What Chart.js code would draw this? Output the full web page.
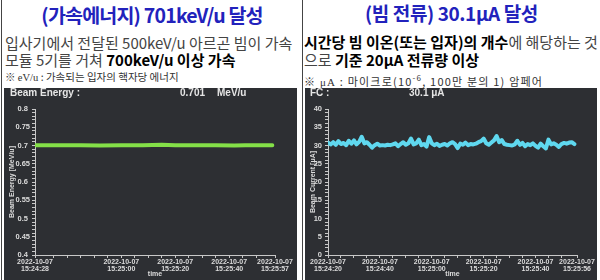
<!DOCTYPE html>
<html>
<head>
<meta charset="utf-8">
<script src="https://cdn.jsdelivr.net/npm/chart.js@4.4.1/dist/chart.umd.min.js"></script>
<style>
  body { margin:0; width:600px; height:280px; overflow:hidden; background:#fff; position:relative; font-family:"Noto Sans CJK KR", sans-serif; }
  .col { position:absolute; top:0; height:88px; overflow:hidden; white-space:nowrap; }
  .title { position:absolute; left:0; right:0; text-align:center; color:#2222bc; font-weight:bold; line-height:28px; }
  .txt { position:absolute; left:3px; font-size:15px; line-height:18px; color:#444; }
  .txt b { color:#000; }
  .note { position:absolute; left:3px; font-size:11px; line-height:13px; color:#333; }
  .note .s { font-family:"Liberation Serif", serif; }
  .panel { position:absolute; top:88px; height:192px; background:#2d2f33; }
  .panel canvas { position:absolute; left:0; top:0; }
  .hdr { position:absolute; top:87px; font:bold 10px "Liberation Sans", sans-serif; color:#e6e6e6; line-height:11px; white-space:nowrap; }
  .vline { position:absolute; top:0; height:280px; width:1px; background:#444; }
</style>
</head>
<body>
<div class="vline" style="left:1px"></div>
<div class="vline" style="left:302px"></div>

<div class="col" style="left:2px;width:300px">
  <div class="title" style="top:1px;font-size:19.5px;letter-spacing:-0.8px">(가속에너지) 701keV/u 달성</div>
  <div class="txt" style="top:34px">입사기에서 전달된 500keV/u 아르곤 빔이 가속</div>
  <div class="txt" style="top:51px">모듈 5기를 거쳐 <b>700keV/u 이상 가속</b></div>
  <div class="note" style="top:70px;font-size:10.5px">※ <span class="s">eV/u</span> : 가속되는 입자의 핵자당 에너지</div>
</div>
<div class="col" style="left:303px;width:297px">
  <div class="title" style="top:-1px;font-size:19px;letter-spacing:-0.4px">(빔 전류) 30.1μA 달성</div>
  <div class="txt" style="top:33px;left:1px"><b>시간당 빔 이온(또는 입자)의 개수</b>에 해당하는 것</div>
  <div class="txt" style="top:51px;left:1px">으로 <b>기준 20μA 전류량 이상</b></div>
  <div class="note" style="top:71px;left:1px;letter-spacing:1.2px">※ <span class="s">μA</span> : 마이크로(10<sup style="font-size:8px">-6</sup>, 100만 분의 1) 암페어</div>
</div>

<div class="panel" style="left:4px;width:293px"><canvas id="energyChart" width="293" height="192"></canvas></div>
<div class="panel" style="left:305px;width:292px"><canvas id="currentChart" width="292" height="192"></canvas></div>

<div class="hdr" style="left:10px">Beam Energy :</div>
<div class="hdr" style="left:180px">0.701</div>
<div class="hdr" style="left:217px">MeV/u</div>
<div class="hdr" style="left:310px">FC :</div>
<div class="hdr" style="left:409px">30.1 μA</div>

<script>
// 시간: 15:24:00 기준 초 단위
const energyTimes = [28, 35, 37, 45, 52, 60, 68, 75, 80, 88, 95, 102, 106, 112, 116];
const energyValues = [0.701, 0.701, 0.701, 0.701, 0.700, 0.701, 0.701, 0.702, 0.701, 0.701, 0.701, 0.700, 0.701, 0.701, 0.701];

const currentTimes = [20, 21, 22, 23, 24, 25, 26, 27, 28, 29, 30, 31, 32, 33, 34, 35, 36, 37, 38, 39,
  40, 41, 42, 43, 44, 45, 46, 47, 48, 49, 50, 51, 52, 53, 54, 55, 56, 57, 58, 59,
  60, 61, 62, 63, 64, 65, 66, 67, 68, 69, 70, 71, 72, 73, 74, 75, 76, 77, 78, 79,
  80, 81, 82, 83, 84, 85, 86, 87, 88, 89, 90, 91, 92, 93, 94, 95, 96, 97, 98, 99,
  100, 101, 102, 103, 104, 105, 106, 107, 108, 109, 110, 111, 112, 113, 114, 115];
const currentValues = [30.8, 30.3, 30.9, 30.2, 31.2, 30.4, 30.7, 30.1, 31.3, 30.5, 31.4, 30.3, 31.0, 32.4, 30.6, 30.9, 30.2, 29.4, 30.1, 30.5,
  30.0, 30.1, 30.0, 30.2, 30.1, 30.3, 30.6, 29.8, 30.4, 30.9, 30.2, 30.6, 31.9, 30.3, 30.6, 31.6, 30.1, 30.4, 29.7, 32.3,
  30.6, 30.1, 30.5, 29.9, 30.2, 30.4, 30.0, 30.6, 30.9, 30.4, 29.3, 30.5, 30.2, 30.8, 30.1, 30.4, 30.3, 30.5, 30.9, 31.2,
  31.9, 30.6, 30.2, 30.8, 31.4, 32.6, 30.9, 31.5, 30.4, 30.2, 30.1, 30.0, 30.3, 31.3, 30.2, 30.7, 29.8, 30.4, 30.1, 30.6,
  29.9, 29.4, 30.5, 29.8, 29.2, 31.6, 30.3, 30.6, 30.2, 29.6, 30.4, 30.7, 30.5, 30.8, 30.9, 30.4];

const energyTickTimes = [28, 60, 80, 100, 117];
const energyTickLabels = [['2022-10-07', '15:24:28'], ['2022-10-07', '15:25:00'], ['2022-10-07', '15:25:20'], ['2022-10-07', '15:25:40'], ['2022-10-07', '15:25:57']];
const currentTickTimes = [20, 40, 60, 80, 100, 116];
const currentTickLabels = [['2022-10-07', '15:24:20'], ['2022-10-07', '15:24:40'], ['2022-10-07', '15:25:00'], ['2022-10-07', '15:25:20'], ['2022-10-07', '15:25:40'], ['2022-10-07', '15:25:56']];

const energyYTicks = [0.4, 0.45, 0.5, 0.55, 0.6, 0.65, 0.7, 0.75, 0.8];
const currentYTicks = [0, 5, 10, 15, 20, 25, 30, 35, 40];

const axisColor = '#c8c8c8';
const textColor = '#dcdcdc';
const tickFont = { family: 'Liberation Sans', size: 7, weight: 'bold', lineHeight: 0.95 };

function makeChart(id, cfg) {
  const xs = cfg.tickTimes;
  const ys = cfg.yTicks;
  return new Chart(document.getElementById(id), {
    type: 'line',
    data: {
      datasets: [{
        data: cfg.times.map((t, i) => ({ x: t, y: cfg.values[i] })),
        borderColor: cfg.color,
        backgroundColor: cfg.color,
        borderWidth: 4,
        tension: 0,
        pointRadius: 0,
        borderJoinStyle: 'round',
        borderCapStyle: 'round'
      }]
    },
    options: {
      responsive: false,
      animation: false,
      layout: { padding: { top: 21, right: cfg.padRight, left: 0, bottom: 0 } },
      plugins: { legend: { display: false }, tooltip: { enabled: false } },
      scales: {
        x: {
          type: 'linear',
          min: cfg.xMin, max: cfg.xMax,
          afterBuildTicks: s => {
            const vals = xs.slice();
            for (let v = Math.ceil(cfg.xMin / 5) * 5; v < cfg.xMax; v += 5) {
              if (!vals.some(m => Math.abs(m - v) < 3)) vals.push(v);
            }
            vals.sort((a, b) => a - b);
            s.ticks = vals.map(v => ({ value: v }));
          },
          afterFit: s => { s.height = 25; },
          ticks: {
            autoSkip: false, maxRotation: 0, minRotation: 0, padding: 1,
            color: textColor, font: tickFont,
            callback: v => { const i = xs.indexOf(v); return i >= 0 ? cfg.tickLabels[i] : ''; }
          },
          grid: { drawOnChartArea: false, drawTicks: true, tickLength: 3, color: axisColor },
          border: { display: true, color: axisColor, width: 1 },
          title: { display: true, text: 'time', color: textColor, font: { family: 'Liberation Sans', size: 7, weight: 'bold' }, padding: { top: 0, bottom: 2 } }
        },
        y: {
          min: ys[0], max: ys[ys.length - 1],
          afterBuildTicks: s => {
            const vals = [];
            const step = (ys[1] - ys[0]) / 5;
            for (let i = 0; i <= (ys.length - 1) * 5; i++) vals.push({ value: +(ys[0] + i * step).toFixed(4) });
            s.ticks = vals;
          },
          afterFit: s => { s.width = cfg.yWidth; },
          ticks: {
            autoSkip: false, padding: cfg.yPad, crossAlign: cfg.yAlign,
            color: textColor, font: { family: 'Liberation Sans', size: 7.5, weight: 'bold' },
            callback: v => { const i = ys.findIndex(m => Math.abs(m - v) < 1e-6); return i >= 0 ? String(ys[i]) : ''; }
          },
          grid: { drawOnChartArea: false, drawTicks: true, tickLength: 3, color: axisColor },
          border: { display: true, color: axisColor, width: 1 },
          title: { display: true, text: cfg.yTitle, color: textColor, font: { family: 'Liberation Sans', size: 7, weight: 'bold' }, padding: { top: 4, bottom: 0 } }
        }
      }
    }
  });
}

makeChart('energyChart', {
  times: energyTimes, values: energyValues, color: '#84e048',
  tickTimes: energyTickTimes, tickLabels: energyTickLabels, xMin: 28, xMax: 117,
  yTicks: energyYTicks, yTitle: 'Beam Energy [MeV/u]', yWidth: 31, yPad: 2, yAlign: 'center', padRight: 22
});

makeChart('currentChart', {
  times: currentTimes, values: currentValues, color: '#5fd8ef',
  tickTimes: currentTickTimes, tickLabels: currentTickLabels, xMin: 20, xMax: 116,
  yTicks: currentYTicks, yTitle: 'Beam Current [μA]', yWidth: 23, yPad: 3, yAlign: 'near', padRight: 20
});
</script>
</body>
</html>
